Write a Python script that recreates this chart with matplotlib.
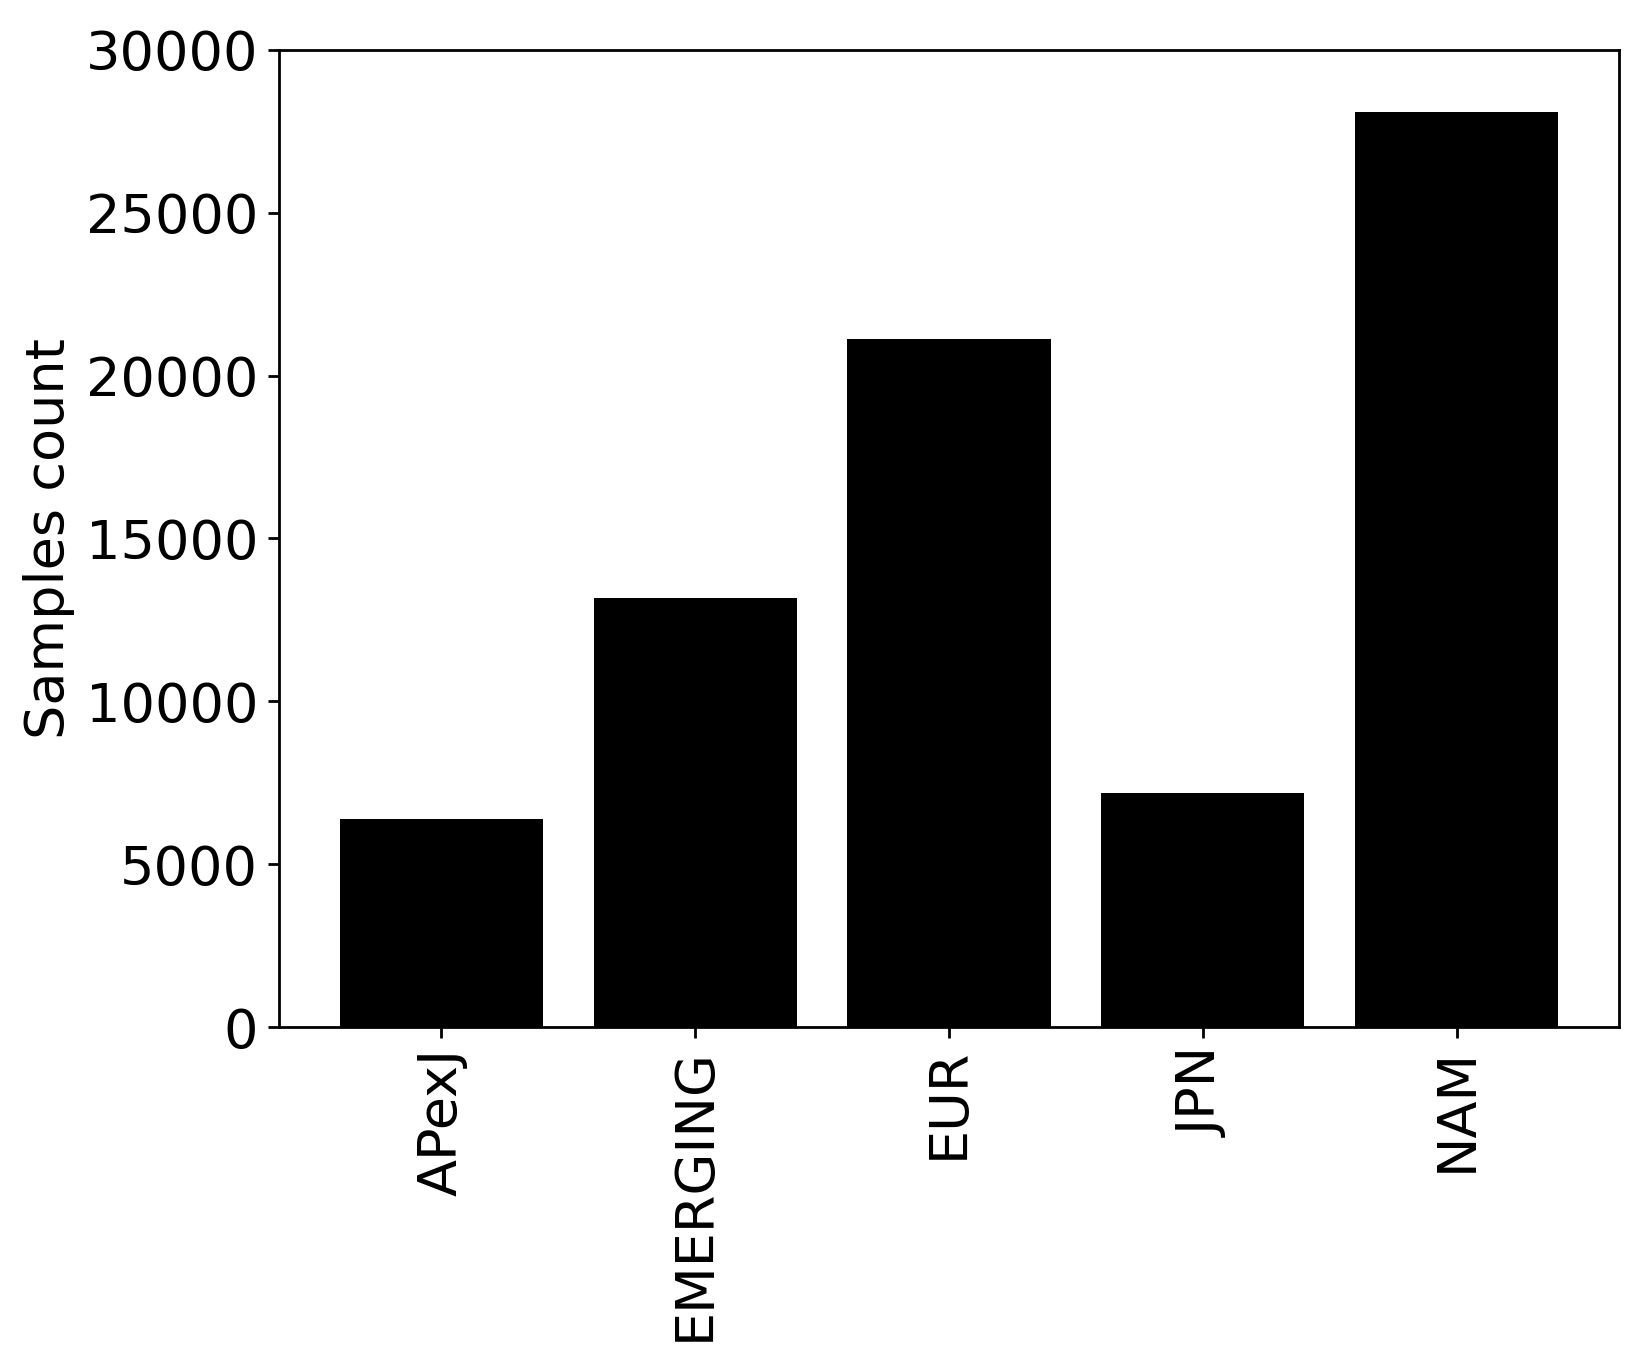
import matplotlib
matplotlib.use("Agg")
import matplotlib.pyplot as plt

categories = ["APexJ", "EMERGING", "EUR", "JPN", "NAM"]
counts = [6380, 13160, 21120, 7200, 28080]

fig = plt.figure(figsize=(8.205, 6.805), dpi=200)
ax = fig.add_axes([0.170, 0.2454, 0.8166, 0.7179])
ax.bar(categories, counts, color="black", width=0.8)
ax.set_ylim(0, 30000)
ax.set_yticks([0, 5000, 10000, 15000, 20000, 25000, 30000])
ax.set_ylabel("Samples count", fontsize=19.5)
ax.tick_params(axis="both", labelsize=19.5, width=1.0, length=4)
for s in ax.spines.values():
    s.set_linewidth(1.0)
plt.setp(ax.get_xticklabels(), rotation=90)
fig.savefig("out.png", dpi=200)
